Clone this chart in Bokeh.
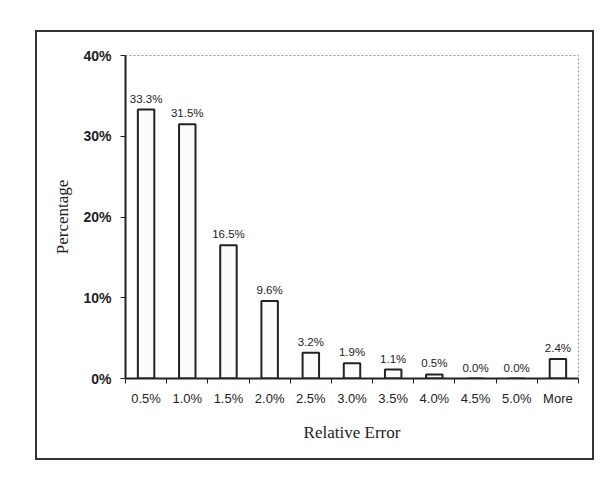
from bokeh.plotting import figure
from bokeh.models import Range1d, FixedTicker, Spacer, ColumnDataSource, PrintfTickFormatter
from bokeh.layouts import column, row
from bokeh.core.properties import value
from bokeh.embed import file_html
from bokeh.resources import INLINE

categories = ["0.5%", "1.0%", "1.5%", "2.0%", "2.5%", "3.0%", "3.5%", "4.0%", "4.5%", "5.0%", "More"]
percentages = [33.3, 31.5, 16.5, 9.6, 3.2, 1.9, 1.1, 0.5, 0.0, 0.0, 2.4]
y_ticks = [0, 10, 20, 30, 40]

n = len(categories)
centers = [i + 0.5 for i in range(n)]
bounds = [float(i) for i in range(n + 1)]
labels = ["%.1f%%" % v for v in percentages]

src = ColumnDataSource(dict(x=centers, top=percentages, lab=labels))

p = figure(width=559, height=430, output_backend="svg", toolbar_location=None,
           x_range=Range1d(0, n), y_range=Range1d(0, 40),
           min_border_left=88, min_border_right=18, min_border_top=23, min_border_bottom=84)
p.styles = {"border": "2px solid #333", "box-sizing": "border-box"}
p.grid.visible = False
p.outline_line_color = "#999999"
p.outline_line_dash = "2 2"
p.outline_line_width = 1

p.vbar(x="x", top="top", width=0.4, bottom=0, source=src,
       fill_color="#fbfbfb", line_color="#222222", line_width=2)
p.text(x="x", y="top", text="lab", source=src, text_align="center", text_baseline="bottom",
       y_offset=-5, text_font=value("Liberation Sans"), text_font_size="11.5px", text_color="#222222")

xa = p.xaxis[0]
xa.ticker = FixedTicker(ticks=centers, minor_ticks=bounds)
xa.major_label_overrides = {c: lab for c, lab in zip(centers, categories)}
xa.major_tick_out = 0
xa.major_tick_in = 0
xa.minor_tick_out = 5
xa.minor_tick_in = 0
xa.axis_line_width = 2
xa.axis_line_color = "#222222"
xa.minor_tick_line_color = "#222222"
xa.major_label_text_font = "Liberation Sans"
xa.major_label_text_font_size = "13px"
xa.major_label_text_color = "#222222"
xa.major_label_standoff = 7
xa.axis_label = "Relative Error"
xa.axis_label_text_font = "Liberation Serif"
xa.axis_label_text_font_style = "normal"
xa.axis_label_text_font_size = "17px"
xa.axis_label_text_color = "#222222"
xa.axis_label_standoff = 14

ya = p.yaxis[0]
ya.ticker = FixedTicker(ticks=y_ticks, minor_ticks=[])
ya.formatter = PrintfTickFormatter(format="%d%%")
ya.major_tick_out = 5
ya.major_tick_in = 0
ya.axis_line_width = 2
ya.axis_line_color = "#222222"
ya.major_tick_line_color = "#222222"
ya.major_label_text_font = "Liberation Sans"
ya.major_label_text_font_style = "bold"
ya.major_label_text_font_size = "14px"
ya.major_label_text_color = "#222222"
ya.major_label_standoff = 9
ya.axis_label = "Percentage"
ya.axis_label_text_font = "Liberation Serif"
ya.axis_label_text_font_style = "normal"
ya.axis_label_text_font_size = "17px"
ya.axis_label_text_color = "#222222"
ya.axis_label_standoff = 8

layout = column(Spacer(height=30), row(Spacer(width=35), p))

open("out.html", "w").write(file_html(layout, INLINE))
